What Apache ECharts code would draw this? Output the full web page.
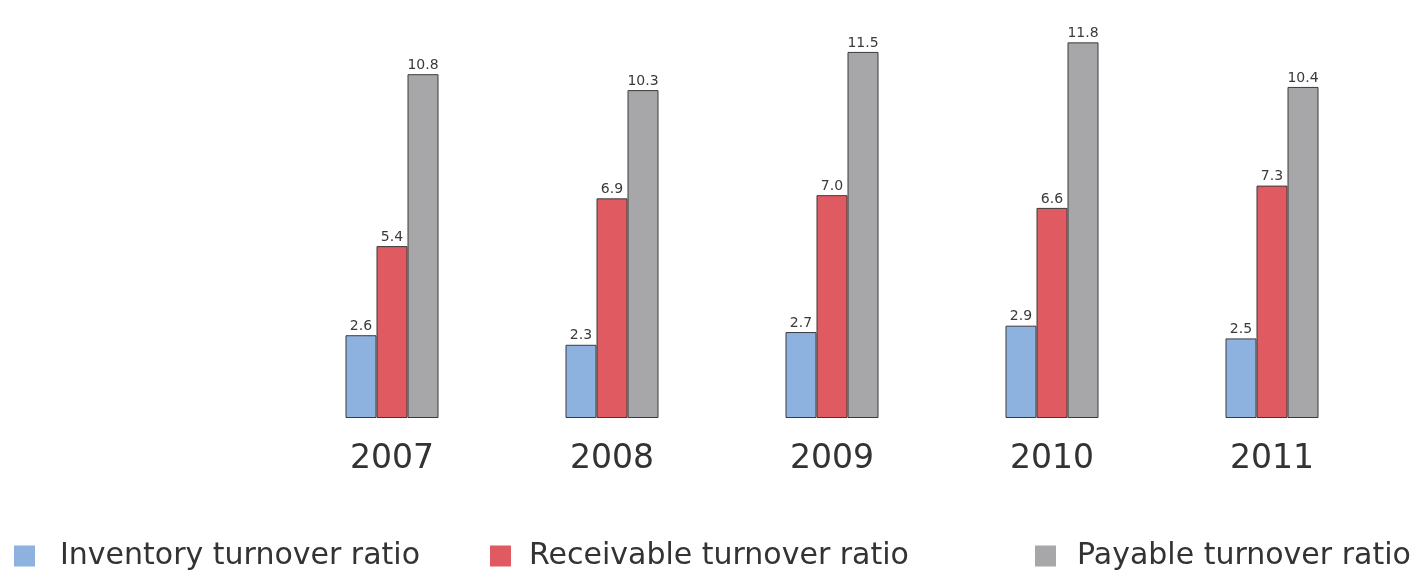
<!DOCTYPE html>
<html>
<head>
<meta charset="utf-8">
<script src="https://cdn.jsdelivr.net/npm/echarts@6/dist/echarts.min.js"></script>
<style>
  html, body { margin: 0; padding: 0; background: #ffffff; }
  #chart { width: 1420px; height: 572px; }
</style>
</head>
<body>
<div id="chart"></div>
<script>
// Turnover ratios by year
const years = ['2007', '2008', '2009', '2010', '2011'];
const inventoryTurnover = [2.6, 2.3, 2.7, 2.9, 2.5];
const receivableTurnover = [5.4, 6.9, 7.0, 6.6, 7.3];
const payableTurnover = [10.8, 10.3, 11.5, 11.8, 10.4];
const seriesNames = ['Inventory turnover ratio', 'Receivable turnover ratio', 'Payable turnover ratio'];
const seriesColors = ['#8db2e0', '#e05a61', '#a7a7a9'];

const chart = echarts.init(document.getElementById('chart'));
const font = '"DejaVu Sans", sans-serif';

function barSeries(name, data, color) {
  return {
    name: name,
    type: 'bar',
    data: data,
    barWidth: 31,
    barGap: '0%',
    itemStyle: { color: color, borderColor: '#3a3a3a', borderWidth: 1 },
    label: {
      show: true,
      position: 'top',
      distance: 2,
      color: '#3a3a3a',
      fontSize: 14,
      fontFamily: font,
      formatter: p => p.value.toFixed(1)
    }
  };
}

function legendAt(name, left, textGap) {
  return {
    data: [name],
    left: left,
    top: 536,
    itemWidth: 21,
    itemHeight: 21,
    icon: 'rect',
    itemStyle: { borderWidth: 0 },
    textStyle: { fontSize: 30, color: '#333333', fontFamily: font, padding: [0, 0, 0, textGap] }
  };
}

chart.setOption({
  animation: false,
  backgroundColor: '#ffffff',
  grid: { left: 282, right: 38, top: 36, bottom: 154 },
  legend: [
    legendAt(seriesNames[0], 9, 20),
    legendAt(seriesNames[1], 485, 13),
    legendAt(seriesNames[2], 1030, 16)
  ],
  xAxis: {
    type: 'category',
    data: years,
    axisLine: { show: false },
    axisTick: { show: false },
    axisLabel: { fontSize: 33, color: '#333333', fontFamily: font, margin: 25 }
  },
  yAxis: {
    type: 'value',
    min: 0,
    max: 12,
    show: false,
    splitLine: { show: false }
  },
  series: [
    barSeries(seriesNames[0], inventoryTurnover, seriesColors[0]),
    barSeries(seriesNames[1], receivableTurnover, seriesColors[1]),
    barSeries(seriesNames[2], payableTurnover, seriesColors[2])
  ]
});
</script>
</body>
</html>
